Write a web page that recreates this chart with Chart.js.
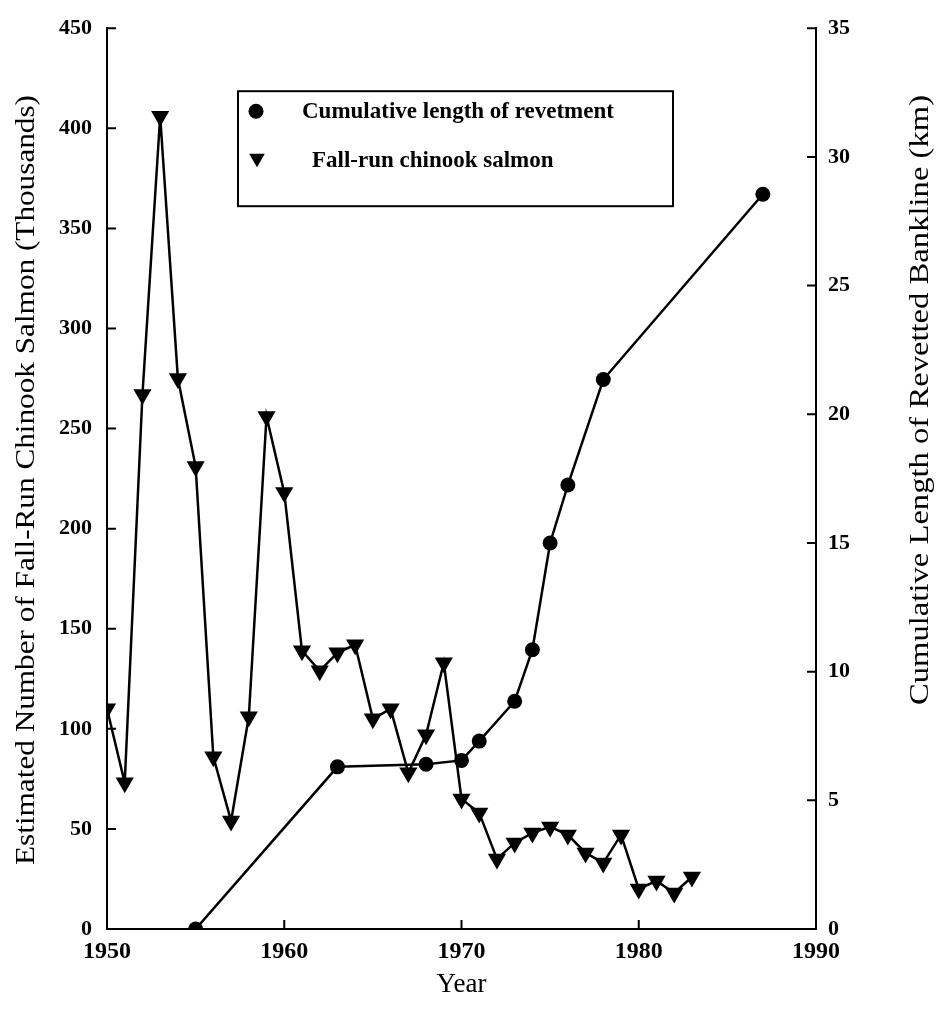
<!DOCTYPE html>
<html>
<head>
<meta charset="utf-8">
<script src="https://cdn.jsdelivr.net/npm/chart.js@4.4.0/dist/chart.umd.min.js"></script>
<style>
  html, body { margin: 0; padding: 0; background: #fff; }
  #wrap { width: 937px; height: 1018px; }
</style>
</head>
<body>
<div id="wrap"><canvas id="salmonChart"></canvas></div>
<script>
// fall-run chinook salmon, thousands of fish per year
var salmonYears = [1950, 1951, 1952, 1953, 1954, 1955, 1956, 1957, 1958, 1959,
                   1960, 1961, 1962, 1963, 1964, 1965, 1966, 1967, 1968, 1969,
                   1970, 1971, 1972, 1973, 1974, 1975, 1976, 1977, 1978, 1979,
                   1980, 1981, 1982, 1983];
var salmonCounts = [110, 73, 267, 406, 275, 231, 86, 54, 106, 256,
                    218, 139, 129, 138, 142, 105, 110, 78, 97, 133,
                    65, 58, 35, 43, 48, 51, 47, 38, 33, 47,
                    20, 24, 18, 26];

// cumulative revetted bankline, km
var revetYears = [1955, 1963, 1968, 1970, 1971, 1973, 1974, 1975, 1976, 1978, 1987];
var revetKm = [0, 6.3, 6.4, 6.55, 7.3, 8.85, 10.85, 15.0, 17.25, 21.35, 28.55];

var yearTicks = [1950, 1960, 1970, 1980, 1990];
var salmonTicks = [0, 50, 100, 150, 200, 250, 300, 350, 400, 450];
var kmTicks = [0, 5, 10, 15, 20, 25, 30, 35];

var revetLabel = 'Cumulative length of revetment';
var salmonLabel = 'Fall-run chinook salmon';
var xTitle = 'Year';
var leftTitle = 'Estimated Number of Fall-Run Chinook Salmon (Thousands)';
var rightTitle = 'Cumulative Length of Revetted Bankline (km)';

function toPoints(xs, ys) {
  return xs.map(function(x, i) { return { x: x, y: ys[i] }; });
}

var serif = '"Liberation Serif", "Times New Roman", serif';

// ticks point into the plot instead of outward
var innerTicks = {
  id: 'innerTicks',
  afterDraw: function(chart) {
    var ctx = chart.ctx, area = chart.chartArea, len = 9;
    ctx.save();
    ctx.strokeStyle = '#000';
    ctx.lineWidth = 2;
    ctx.beginPath();
    chart.scales.x.ticks.forEach(function(t) {
      var px = chart.scales.x.getPixelForValue(t.value);
      ctx.moveTo(px, area.bottom);
      ctx.lineTo(px, area.bottom - len);
    });
    chart.scales.y.ticks.forEach(function(t) {
      var py = chart.scales.y.getPixelForValue(t.value);
      ctx.moveTo(area.left, py);
      ctx.lineTo(area.left + len, py);
    });
    chart.scales.y2.ticks.forEach(function(t) {
      var py = chart.scales.y2.getPixelForValue(t.value);
      ctx.moveTo(area.right, py);
      ctx.lineTo(area.right - len, py);
    });
    ctx.stroke();
    ctx.restore();
  }
};

// axis titles, the vertical ones read bottom to top on both sides
var axisTitles = {
  id: 'axisTitles',
  afterDraw: function(chart) {
    var ctx = chart.ctx, area = chart.chartArea;
    ctx.save();
    ctx.fillStyle = '#000';
    ctx.textAlign = 'center';
    ctx.textBaseline = 'middle';

    ctx.font = '27px ' + serif;
    ctx.fillText(xTitle, (area.left + area.right) / 2, 985);

    function vertical(text, cx, cy, len) {
      ctx.font = '27px ' + serif;
      var w = ctx.measureText(text).width;
      ctx.save();
      ctx.translate(cx, cy);
      ctx.rotate(-Math.PI / 2);
      ctx.scale(len / w, 1);
      ctx.fillText(text, 0, 0);
      ctx.restore();
    }
    vertical(leftTitle, 27, 480, 770);
    vertical(rightTitle, 921, 400, 610);
    ctx.restore();
  }
};

// boxed legend inside the plot
var boxLegend = {
  id: 'boxLegend',
  afterDraw: function(chart) {
    var ctx = chart.ctx, area = chart.chartArea;
    var bx = area.left + 131, by = area.top + 63, bw = 435, bh = 115;
    ctx.save();
    ctx.fillStyle = '#fff';
    ctx.fillRect(bx, by, bw, bh);
    ctx.strokeStyle = '#000';
    ctx.lineWidth = 2;
    ctx.strokeRect(bx, by, bw, bh);

    ctx.fillStyle = '#000';
    ctx.beginPath();
    ctx.arc(bx + 18, by + 20, 7.5, 0, Math.PI * 2);
    ctx.fill();

    var tx = bx + 19, ty = by + 67, r = 9;
    ctx.beginPath();
    ctx.moveTo(tx - r * 0.87, ty - r * 0.5);
    ctx.lineTo(tx + r * 0.87, ty - r * 0.5);
    ctx.lineTo(tx, ty + r);
    ctx.closePath();
    ctx.fill();

    ctx.font = 'bold 23px ' + serif;
    ctx.textAlign = 'left';
    ctx.textBaseline = 'middle';
    ctx.fillText(revetLabel, bx + 64, by + 21);
    ctx.fillText(salmonLabel, bx + 74, by + 70);
    ctx.restore();
  }
};

var ctx = document.getElementById('salmonChart').getContext('2d');
var salmonChart = new Chart(ctx, {
  type: 'line',
  data: {
    datasets: [{
      label: revetLabel,
      data: toPoints(revetYears, revetKm),
      yAxisID: 'y2',
      borderColor: '#000',
      backgroundColor: '#000',
      borderWidth: 2.5,
      pointStyle: 'circle',
      pointRadius: 7.5,
      pointBorderWidth: 0,
      tension: 0
    }, {
      label: salmonLabel,
      data: toPoints(salmonYears, salmonCounts),
      yAxisID: 'y',
      borderColor: '#000',
      backgroundColor: '#000',
      borderWidth: 2.5,
      pointStyle: 'triangle',
      rotation: 180,
      pointRadius: 10.5,
      pointBorderWidth: 0,
      tension: 0
    }]
  },
  options: {
    responsive: true,
    maintainAspectRatio: false,
    animation: false,
    layout: { padding: { top: 24, left: 0, right: 0, bottom: 0 } },
    plugins: {
      legend: { display: false },
      tooltip: { enabled: false }
    },
    scales: {
      x: {
        type: 'linear',
        min: 1950,
        max: 1990,
        afterBuildTicks: function(scale) {
          scale.ticks = yearTicks.map(function(v) { return { value: v }; });
        },
        afterFit: function(scale) { scale.height = 89; },
        grid: { display: false, drawTicks: false },
        border: { display: true, color: '#000', width: 2 },
        ticks: {
          color: '#000',
          font: { family: serif, size: 24, weight: 'bold' },
          padding: 8,
          maxRotation: 0,
          callback: function(v) { return String(v); }
        }
      },
      y: {
        type: 'linear',
        position: 'left',
        min: 0,
        max: 450,
        afterBuildTicks: function(scale) {
          scale.ticks = salmonTicks.map(function(v) { return { value: v }; });
        },
        afterFit: function(scale) { scale.width = 107; },
        grid: { display: false, drawTicks: false },
        border: { display: true, color: '#000', width: 2 },
        ticks: {
          color: '#000',
          font: { family: serif, size: 22, weight: 'bold' },
          padding: 15,
          callback: function(v) { return String(v); }
        }
      },
      y2: {
        type: 'linear',
        position: 'right',
        min: 0,
        max: 35,
        afterBuildTicks: function(scale) {
          scale.ticks = kmTicks.map(function(v) { return { value: v }; });
        },
        afterFit: function(scale) { scale.width = 121; },
        grid: { display: false, drawTicks: false },
        border: { display: true, color: '#000', width: 2 },
        ticks: {
          color: '#000',
          font: { family: serif, size: 22, weight: 'bold' },
          padding: 12,
          callback: function(v) { return String(v); }
        }
      }
    }
  },
  plugins: [innerTicks, axisTitles, boxLegend]
});
</script>
</body>
</html>
